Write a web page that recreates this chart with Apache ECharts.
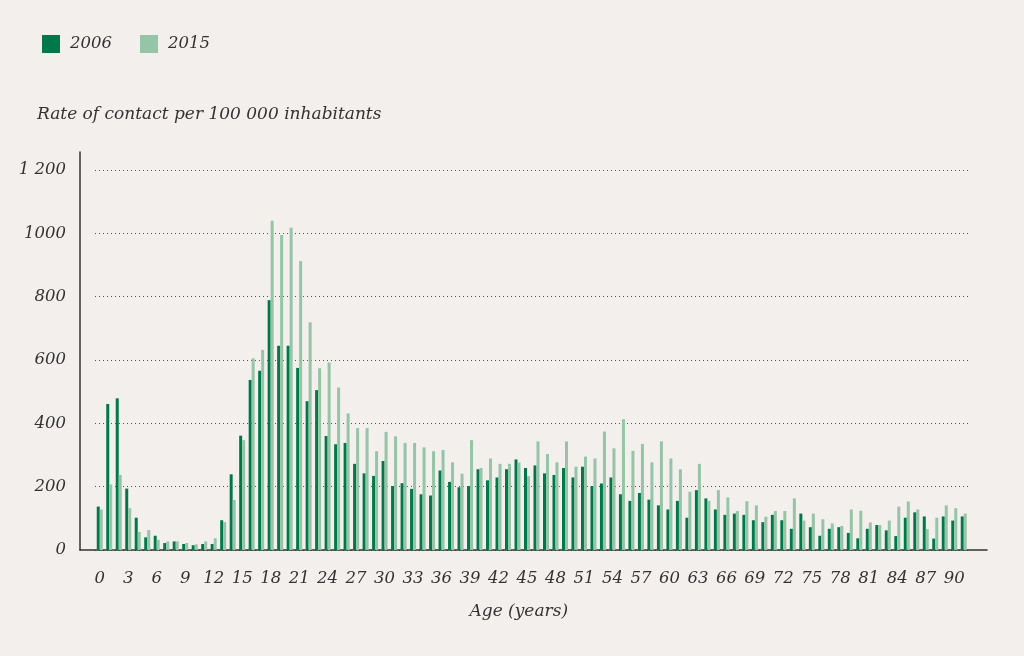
<!DOCTYPE html>
<html>
<head>
<meta charset="utf-8">
<script src="https://cdn.jsdelivr.net/npm/echarts@6/dist/echarts.min.js"></script>
<style>
  html, body { margin: 0; padding: 0; background: #f2efed; }
  #chart { width: 1024px; height: 656px; }
</style>
</head>
<body>
<div id="chart"></div>
<script>
// ages 0..91 (one bar per year of age)
const ages = [];
for (let a = 0; a <= 91; a++) ages.push(String(a));

const rate2006 = [137, 461, 479, 194, 102, 40, 45, 22, 27, 19,
  15, 19, 19, 94, 239, 361, 537, 566, 789, 645,
  645, 575, 470, 505, 360, 334, 338, 272, 242, 234,
  281, 202, 211, 193, 176, 172, 251, 215, 198, 202,
  255, 220, 229, 255, 286, 259, 267, 242, 237, 259,
  229, 263, 202, 210, 229, 176, 155, 180, 159, 141,
  128, 155, 102, 189, 163, 128, 111, 115, 111, 94,
  88, 111, 94, 67, 115, 72, 45, 67, 72, 54,
  37, 67, 79, 62, 44, 102, 119, 106, 36, 106,
  93, 106];

const rate2015 = [128, 207, 237, 132, 57, 63, 32, 27, 27, 22,
  18, 27, 37, 88, 158, 347, 605, 632, 1040, 995,
  1018, 913, 719, 574, 592, 513, 431, 385, 385, 312,
  373, 359, 338, 338, 324, 312, 316, 277, 241, 347,
  259, 289, 272, 272, 276, 233, 343, 303, 277, 343,
  263, 295, 289, 374, 321, 413, 313, 335, 277, 343,
  289, 255, 184, 272, 155, 189, 166, 123, 154, 141,
  105, 123, 123, 163, 93, 115, 97, 84, 76, 128,
  124, 87, 79, 93, 137, 153, 128, 66, 102, 141,
  132, 115];

const yTicks = [0, 200, 400, 600, 800, 1000, 1200];

const font = 'DejaVu Serif';
const textColor = '#333333';

const chart = echarts.init(document.getElementById('chart'));

const option = {
  backgroundColor: '#f2efed',
  animation: false,
  title: {
    text: 'Rate of contact per 100 000 inhabitants',
    left: 37,
    top: 106,
    padding: 0,
    textStyle: { fontFamily: font, fontStyle: 'italic', fontWeight: 'normal', fontSize: 17, color: textColor }
  },
  legend: {
    left: 42,
    top: 35,
    padding: 0,
    icon: 'rect',
    itemWidth: 18,
    itemHeight: 18,
    itemGap: 28,
    textStyle: { fontFamily: font, fontStyle: 'italic', fontSize: 16.5, color: textColor, padding: [0, 0, 0, 5] },
    data: ['2006', '2015']
  },
  grid: [
    { left: 95, right: 55.5, top: 170, bottom: 106 },
    { left: 80, right: 37, top: 152, bottom: 106 }
  ],
  xAxis: [{
    type: 'category',
    gridIndex: 0,
    data: ages,
    axisLine: { show: false },
    axisTick: { show: false },
    axisLabel: {
      interval: 2,
      margin: 20,
      fontFamily: font, fontStyle: 'italic', fontSize: 16.5, color: textColor
    },
    name: 'Age (years)',
    nameLocation: 'middle',
    nameGap: 53,
    nameTextStyle: { fontFamily: font, fontStyle: 'italic', fontSize: 17, color: textColor, padding: [0, 26, 0, 0] }
  }, {
    type: 'value',
    gridIndex: 1,
    min: 0, max: 1,
    axisLine: { show: true, lineStyle: { color: '#333', width: 1.5 } },
    axisTick: { show: false },
    axisLabel: { show: false },
    splitLine: { show: false }
  }],
  yAxis: [{
    type: 'value',
    gridIndex: 0,
    min: yTicks[0],
    max: yTicks[yTicks.length - 1],
    interval: 200,
    axisLine: { show: false },
    axisTick: { show: false },
    axisLabel: {
      margin: 29,
      fontFamily: font, fontStyle: 'italic', fontSize: 16.5, color: textColor,
      formatter: v => (v === 1200 ? '1 200' : String(v))
    },
    splitLine: { show: true, lineStyle: { color: '#555', width: 1.2, type: [1, 3] } }
  }, {
    type: 'value',
    gridIndex: 1,
    min: 0, max: 1,
    axisLine: { show: true, lineStyle: { color: '#333', width: 1.5 } },
    axisTick: { show: false },
    axisLabel: { show: false },
    splitLine: { show: false }
  }],
  series: [{
    name: '2006',
    type: 'bar',
    xAxisIndex: 0,
    yAxisIndex: 0,
    data: rate2006,
    barWidth: 3,
    barGap: '0%',
    itemStyle: { color: '#00784a' }
  }, {
    name: '2015',
    type: 'bar',
    xAxisIndex: 0,
    yAxisIndex: 0,
    data: rate2015,
    barWidth: 3,
    barGap: '0%',
    itemStyle: { color: '#96c4a6' }
  }]
};

chart.setOption(option);
</script>
</body>
</html>
